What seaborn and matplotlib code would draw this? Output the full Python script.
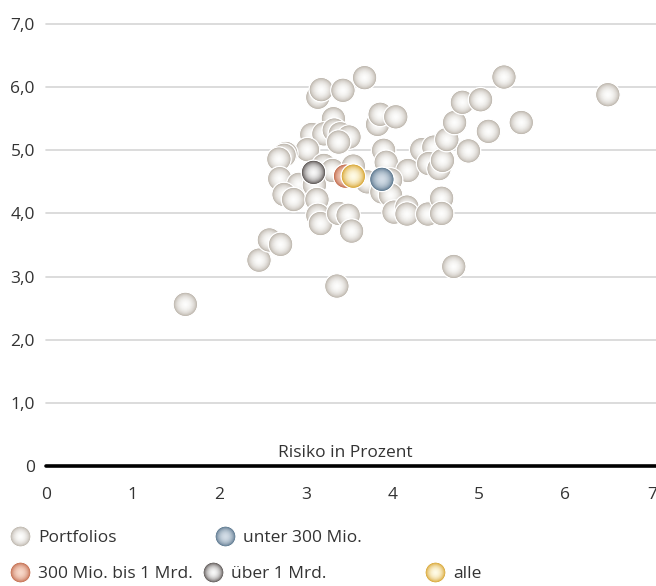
import numpy as np
import pandas as pd
import matplotlib
matplotlib.use("Agg")
import matplotlib.pyplot as plt
import seaborn as sns
from matplotlib.colors import to_rgb
from matplotlib.lines import Line2D
from matplotlib.legend_handler import HandlerTuple

# Portfolios: Risiko (x) und Rendite (y), jeweils in Prozent
portfolio_risiko = [1.61, 2.46, 2.58, 2.71, 3.36, 4.71, 3.68, 3.14, 3.18, 3.43,
                    3.83, 3.86, 4.04, 3.32, 3.07, 3.21, 3.33, 3.40, 3.50, 3.38,
                    3.02, 2.77, 2.75, 2.69, 3.21, 3.31, 3.55, 3.90, 3.93, 4.18,
                    3.98, 3.71, 3.88, 3.98, 2.70, 2.92, 3.10, 2.75, 2.86, 3.13,
                    3.14, 3.17, 3.38, 3.49, 3.53, 4.02, 4.17, 4.17, 4.41, 4.57,
                    4.57, 4.34, 4.48, 4.42, 4.54, 4.58, 4.63, 4.72, 4.81, 5.02,
                    4.88, 5.11, 5.29, 5.49, 6.49]
portfolio_rendite = [2.56, 3.26, 3.58, 3.51, 2.85, 3.16, 6.15, 5.84, 5.96, 5.95,
                     5.41, 5.57, 5.53, 5.50, 5.25, 5.26, 5.32, 5.26, 5.21, 5.13,
                     5.01, 4.95, 4.92, 4.86, 4.76, 4.68, 4.75, 5.00, 4.81, 4.68,
                     4.53, 4.50, 4.34, 4.29, 4.55, 4.46, 4.45, 4.30, 4.22, 4.22,
                     3.97, 3.84, 4.00, 3.97, 3.72, 4.02, 4.10, 3.99, 3.99, 4.24,
                     4.00, 5.01, 5.05, 4.79, 4.71, 4.84, 5.17, 5.44, 5.76, 5.80,
                     4.99, 5.30, 6.16, 5.44, 5.88]

# Durchschnitt nach Vermoegensgroesse
gruppen = ["300 Mio. bis 1 Mrd.", "über 1 Mrd.", "unter 300 Mio.", "alle"]
gruppen_risiko = [3.46, 3.09, 3.88, 3.55]
gruppen_rendite = [4.59, 4.65, 4.54, 4.59]

x_ticks = [0, 1, 2, 3, 4, 5, 6, 7]
y_ticks = [0, 1, 2, 3, 4, 5, 6, 7]
y_labels = ["0", "1,0", "2,0", "3,0", "4,0", "5,0", "6,0", "7,0"]

# Randfarbe, Mittelfarbe der Kugeln
farben = {
    "Portfolios": ("#b3aba0", "#fdfdfc"),
    "unter 300 Mio.": ("#48667f", "#d3dde7"),
    "300 Mio. bis 1 Mrd.": ("#bb5c3b", "#f8d9ca"),
    "über 1 Mrd.": ("#433c3a", "#f8f8f8"),
    "alle": ("#d29816", "#fffbe6"),
}

RADIEN = np.linspace(1.0, 0.08, 14)
BASIS_S = 310
FS = 12.5
TEXT = "#333333"


def schattierung(name):
    rand, mitte = (np.array(to_rgb(c)) for c in farben[name])
    t = (1 - RADIEN ** 2) ** 0.7
    return [tuple(rand + (mitte - rand) * ti) for ti in t]


def kugeln(ax, xs, ys, name):
    n = len(RADIEN)
    df = pd.DataFrame({"x": np.repeat(xs, n), "y": np.repeat(ys, n)})
    sizes = np.tile(BASIS_S * RADIEN ** 2, len(xs))
    sns.scatterplot(data=df, x="x", y="y", s=sizes, linewidth=1.0,
                    ax=ax, legend=False, zorder=3)
    coll = ax.collections[-1]
    coll.set_facecolors(schattierung(name) * len(xs))
    coll.set_edgecolors(["white"] + ["none"] * (n - 1))
    coll.set_linewidths([1.0] + [0.0] * (n - 1))


def legenden_griff(name):
    cols = schattierung(name)
    return tuple(
        Line2D([], [], ls="", marker="o", markersize=15 * r,
               markerfacecolor=c, markeredgecolor="white" if i == 0 else "none",
               markeredgewidth=1.0 if i == 0 else 0)
        for i, (r, c) in enumerate(zip(RADIEN, cols))
    )


sns.set_style("white")
plt.rcParams["font.family"] = ["Open Sans", "DejaVu Sans"]
plt.rcParams["font.size"] = FS

fig = plt.figure(figsize=(6.56, 5.86), dpi=100)
ax = fig.add_axes([46 / 656, 1 - 466 / 586, 606 / 656, 442 / 586])

for y in y_ticks[1:]:
    ax.axhline(y, xmin=0, xmax=1.007, color="#d6d6d6", lw=1.2, zorder=1, clip_on=False)
ax.axhline(0, xmin=0, xmax=1.007, color="black", lw=2.6, zorder=2, clip_on=False)

kugeln(ax, portfolio_risiko, portfolio_rendite, "Portfolios")
for name, gx, gy in zip(gruppen, gruppen_risiko, gruppen_rendite):
    kugeln(ax, [gx], [gy], name)

ax.set_xlim(0, 7)
ax.set_ylim(0, 7)
ax.set_xticks(x_ticks)
ax.set_xticklabels([str(v) for v in x_ticks])
ax.set_yticks(y_ticks)
ax.set_yticklabels(y_labels)
ax.tick_params(axis="x", length=0, pad=15, colors=TEXT, labelsize=FS)
ax.tick_params(axis="y", length=0, pad=8, colors=TEXT, labelsize=FS)
ax.set_xlabel("")
ax.set_ylabel("")
for s in ax.spines.values():
    s.set_visible(False)

ax.text(3.46, 0.08, "Risiko in Prozent", ha="center", va="bottom",
        color=TEXT, fontsize=FS)

leg_kw = dict(frameon=False, borderpad=0, borderaxespad=0, handlelength=1.15,
              handletextpad=0.45, labelcolor=TEXT, fontsize=FS, loc="center left",
              handler_map={tuple: HandlerTuple(ndivide=1, pad=0)})
# Zeile 1
zeile1 = ["Portfolios", "unter 300 Mio."]
fig.legend([legenden_griff(n) for n in zeile1], zeile1, ncol=2, columnspacing=5.7,
           bbox_to_anchor=(10 / 656, 1 - 538 / 586), **leg_kw)
# Zeile 2
zeile2 = ["300 Mio. bis 1 Mrd.", "über 1 Mrd."]
fig.legend([legenden_griff(n) for n in zeile2], zeile2, ncol=2, columnspacing=0.6,
           bbox_to_anchor=(10 / 656, 1 - 574 / 586), **leg_kw)
fig.legend([legenden_griff("alle")], ["alle"],
           bbox_to_anchor=(425 / 656, 1 - 574 / 586), **leg_kw)

fig.savefig("out.png", dpi=100)
